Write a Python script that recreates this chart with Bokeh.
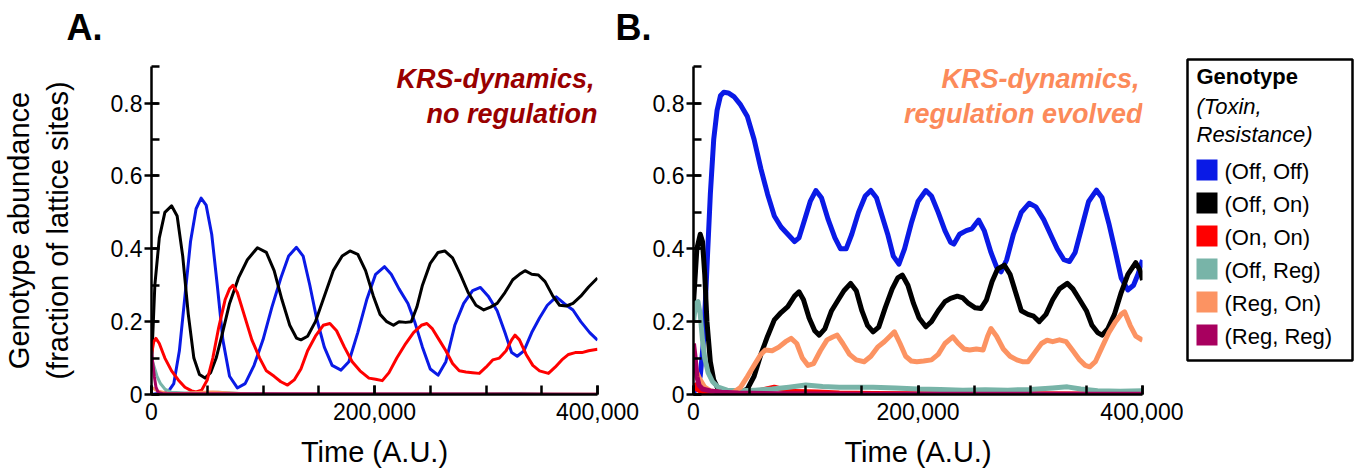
import numpy as np
from bokeh.plotting import figure
from bokeh.layouts import row, column
from bokeh.models import Range1d, SingleIntervalTicker, NumeralTickFormatter, Label
from bokeh.core.properties import value
from bokeh.embed import file_html
from bokeh.resources import INLINE

FONT = "Liberation Sans"

genotypes = ["(Off, Off)", "(Off, On)", "(On, On)", "(Off, Reg)", "(Reg, On)", "(Reg, Reg)"]
colors = ["#0a1ae6", "#000000", "#ff0000", "#78b4a8", "#fc9362", "#a8005f"]

a_offoff_t = [0, 10, 15, 20, 25, 30, 35, 40, 44.5, 49, 54, 59, 64, 70, 77, 84, 92, 100, 108, 116, 123, 130, 136, 142, 148, 155, 162, 170, 177, 185, 193, 201, 209, 215, 222, 230, 236, 243, 250, 257, 264, 272, 280, 288, 295, 302, 310, 317, 323, 328, 334, 341, 348, 355, 363, 370, 378, 385, 393, 400]
a_offoff_v = [0.0, 0.005, 0.008, 0.03, 0.12, 0.27, 0.42, 0.51, 0.539, 0.52, 0.44, 0.30, 0.15, 0.05, 0.018, 0.03, 0.08, 0.15, 0.24, 0.32, 0.38, 0.404, 0.38, 0.30, 0.21, 0.13, 0.08, 0.067, 0.09, 0.17, 0.26, 0.33, 0.351, 0.33, 0.29, 0.25, 0.20, 0.13, 0.07, 0.053, 0.09, 0.19, 0.25, 0.285, 0.294, 0.27, 0.23, 0.17, 0.115, 0.105, 0.12, 0.17, 0.21, 0.245, 0.268, 0.25, 0.232, 0.20, 0.17, 0.149]

a_offon_t = [0, 3, 7, 12, 18, 23, 28, 33, 38, 43, 48, 53, 58, 63, 70, 78, 86, 95, 103, 110, 117, 124, 130, 134, 140, 147, 155, 163, 171, 178, 185, 192, 199, 205, 211, 217, 222, 228, 233, 238, 243, 250, 257, 263, 270, 277, 284, 291, 298, 304, 310, 317, 324, 330, 335, 341, 347, 353, 360, 366, 372, 378, 385, 392, 400]
a_offon_v = [0.08, 0.30, 0.43, 0.50, 0.518, 0.49, 0.38, 0.22, 0.10, 0.055, 0.045, 0.06, 0.10, 0.16, 0.25, 0.32, 0.37, 0.403, 0.39, 0.34, 0.26, 0.19, 0.155, 0.15, 0.16, 0.20, 0.27, 0.34, 0.38, 0.394, 0.385, 0.34, 0.27, 0.22, 0.20, 0.19, 0.20, 0.198, 0.20, 0.24, 0.30, 0.36, 0.39, 0.394, 0.375, 0.33, 0.28, 0.245, 0.232, 0.24, 0.25, 0.28, 0.315, 0.33, 0.34, 0.33, 0.328, 0.31, 0.27, 0.245, 0.243, 0.25, 0.27, 0.295, 0.32]

a_onon_t = [0, 2, 4, 7, 12, 18, 24, 30, 36, 40, 45, 50, 55, 60, 66, 70, 73, 77, 83, 90, 97, 103, 110, 116, 122, 128, 134, 140, 147, 154, 160, 166, 173, 180, 187, 195, 201, 207, 213, 220, 228, 235, 242, 247, 252, 258, 264, 270, 276, 282, 288, 294, 300, 306, 312, 318, 323, 326, 330, 336, 342, 348, 356, 362, 368, 374, 380, 386, 392, 400]
a_onon_v = [0.11, 0.145, 0.154, 0.14, 0.10, 0.065, 0.04, 0.02, 0.01, 0.007, 0.012, 0.04, 0.10, 0.18, 0.26, 0.29, 0.30, 0.28, 0.22, 0.15, 0.10, 0.065, 0.05, 0.035, 0.026, 0.04, 0.07, 0.12, 0.16, 0.19, 0.195, 0.175, 0.13, 0.09, 0.065, 0.045, 0.042, 0.038, 0.06, 0.10, 0.14, 0.17, 0.19, 0.195, 0.18, 0.15, 0.12, 0.085, 0.065, 0.062, 0.06, 0.058, 0.075, 0.095, 0.10, 0.12, 0.15, 0.163, 0.15, 0.11, 0.08, 0.065, 0.058, 0.075, 0.095, 0.11, 0.115, 0.115, 0.12, 0.124]

a_offreg_t = [0, 2, 5, 8, 12, 18, 30, 50, 60, 80, 120, 200, 300, 330, 360, 400]
a_offreg_v = [0.10, 0.08, 0.05, 0.03, 0.015, 0.006, 0.004, 0.005, 0.006, 0.003, 0.001, 0.001, 0.002, 0.003, 0.001, 0.001]

a_regon_t = [0, 5, 15, 30, 45, 55, 70, 90, 400]
a_regon_v = [0.02, 0.01, 0.003, 0.003, 0.006, 0.007, 0.004, 0.001, 0.0005]

a_regreg_t = [0, 1, 2.5, 4, 6, 10, 400]
a_regreg_v = [0.12, 0.09, 0.05, 0.02, 0.006, 0.002, 0.001]

b_offoff_t = [0, 3, 6, 9, 12, 15, 18, 21, 24, 27, 31, 36, 42, 48, 54, 60, 66, 72, 78, 84, 90, 94, 99, 104, 109, 114, 120, 126, 131, 136, 141, 147, 153, 158, 163, 168, 173, 178, 183, 188, 194, 200, 207, 212, 218, 224, 229, 232, 237, 243, 248, 254, 259, 265, 270, 274, 279, 285, 292, 299, 305, 312, 318, 324, 330, 335, 340, 346, 352, 359, 364, 370, 376, 381, 387, 392, 396, 400]
b_offoff_v = [0.005, 0.02, 0.05, 0.15, 0.35, 0.55, 0.70, 0.78, 0.82, 0.83, 0.828, 0.818, 0.795, 0.763, 0.70, 0.62, 0.55, 0.49, 0.46, 0.44, 0.42, 0.43, 0.48, 0.53, 0.56, 0.54, 0.48, 0.43, 0.40, 0.40, 0.44, 0.50, 0.545, 0.56, 0.54, 0.49, 0.44, 0.38, 0.358, 0.40, 0.47, 0.53, 0.56, 0.545, 0.50, 0.45, 0.418, 0.413, 0.44, 0.45, 0.455, 0.479, 0.45, 0.39, 0.35, 0.337, 0.37, 0.44, 0.50, 0.525, 0.515, 0.48, 0.44, 0.40, 0.37, 0.365, 0.39, 0.46, 0.53, 0.561, 0.54, 0.47, 0.39, 0.32, 0.287, 0.30, 0.33, 0.369]

b_offon_t = [0, 3, 6, 8, 10, 12, 15, 18, 22, 28, 35, 42, 48, 54, 60, 66, 72, 78, 84, 90, 94, 98, 103, 108, 112, 117, 123, 129, 134, 140, 145, 150, 155, 160, 165, 171, 177, 182, 186, 191, 196, 201, 207, 212, 218, 224, 229, 235, 240, 245, 251, 256, 261, 266, 271, 277, 282, 287, 292, 298, 303, 308, 314, 320, 326, 333, 338, 344, 350, 355, 360, 364, 369, 375, 381, 387, 394, 398, 400]
b_offon_v = [0.25, 0.40, 0.44, 0.42, 0.33, 0.20, 0.09, 0.04, 0.015, 0.006, 0.004, 0.006, 0.015, 0.05, 0.11, 0.16, 0.205, 0.225, 0.241, 0.27, 0.282, 0.26, 0.21, 0.175, 0.163, 0.18, 0.23, 0.26, 0.285, 0.305, 0.285, 0.23, 0.19, 0.172, 0.185, 0.24, 0.29, 0.32, 0.328, 0.30, 0.25, 0.21, 0.186, 0.20, 0.23, 0.255, 0.264, 0.27, 0.265, 0.25, 0.238, 0.236, 0.26, 0.31, 0.345, 0.355, 0.33, 0.28, 0.23, 0.22, 0.215, 0.20, 0.22, 0.26, 0.29, 0.305, 0.29, 0.26, 0.23, 0.19, 0.17, 0.163, 0.18, 0.22, 0.28, 0.33, 0.362, 0.34, 0.314]

b_onon_t = [0, 3, 8, 20, 40, 55, 65, 72, 78, 90, 110, 130, 160, 200, 300, 400]
b_onon_v = [0.03, 0.015, 0.006, 0.004, 0.004, 0.008, 0.015, 0.02, 0.015, 0.008, 0.007, 0.004, 0.003, 0.002, 0.002, 0.001]

b_offreg_t = [0, 2, 4, 6, 8, 10, 13, 17, 22, 30, 40, 55, 70, 85, 100, 115, 130, 145, 160, 180, 200, 220, 240, 260, 280, 300, 320, 333, 345, 360, 380, 400]
b_offreg_v = [0.20, 0.25, 0.255, 0.22, 0.15, 0.10, 0.06, 0.035, 0.02, 0.012, 0.01, 0.012, 0.015, 0.02, 0.026, 0.022, 0.02, 0.02, 0.02, 0.018, 0.015, 0.014, 0.012, 0.013, 0.012, 0.014, 0.018, 0.021, 0.015, 0.01, 0.009, 0.01]

b_regon_t = [0, 3, 6, 10, 15, 25, 35, 42, 48, 54, 60, 64, 70, 76, 82, 87, 92, 97, 102, 107, 113, 119, 124, 128, 133, 139, 145, 152, 158, 164, 170, 175, 179, 184, 189, 194, 199, 205, 212, 218, 224, 231, 236, 241, 246, 252, 258, 262, 265, 270, 276, 282, 288, 293, 298, 304, 310, 315, 320, 326, 332, 338, 344, 349, 353, 358, 364, 370, 376, 381, 384, 389, 394, 400]
b_regon_v = [0.08, 0.06, 0.04, 0.02, 0.01, 0.004, 0.005, 0.02, 0.049, 0.08, 0.11, 0.122, 0.12, 0.13, 0.145, 0.154, 0.14, 0.10, 0.08, 0.085, 0.12, 0.15, 0.158, 0.163, 0.14, 0.11, 0.095, 0.09, 0.105, 0.13, 0.145, 0.16, 0.172, 0.14, 0.105, 0.092, 0.09, 0.092, 0.095, 0.11, 0.14, 0.158, 0.14, 0.125, 0.122, 0.125, 0.122, 0.16, 0.181, 0.16, 0.125, 0.105, 0.095, 0.09, 0.09, 0.115, 0.14, 0.149, 0.145, 0.15, 0.145, 0.12, 0.095, 0.08, 0.076, 0.09, 0.13, 0.17, 0.20, 0.22, 0.227, 0.19, 0.16, 0.149]

b_regreg_t = [0, 1.5, 3, 5, 8, 15, 25, 40, 80, 150, 400]
b_regreg_v = [0.14, 0.10, 0.05, 0.025, 0.015, 0.01, 0.006, 0.004, 0.002, 0.001, 0.001]

panel_a = [(a_offoff_t, a_offoff_v), (a_offon_t, a_offon_v), (a_onon_t, a_onon_v),
           (a_offreg_t, a_offreg_v), (a_regon_t, a_regon_v), (a_regreg_t, a_regreg_v)]
panel_b = [(b_offoff_t, b_offoff_v), (b_offon_t, b_offon_v), (b_onon_t, b_onon_v),
           (b_offreg_t, b_offreg_v), (b_regon_t, b_regon_v), (b_regreg_t, b_regreg_v)]

panel_letters = ["A.", "B."]
x_ticks_interval = 200000
y_ticks_interval = 0.2
x_label = "Time (A.U.)"
y_label = "Genotype abundance\n(fraction of lattice sites)"
legend_title = "Genotype"
legend_sub = ["(Toxin,", "Resistance)"]

HEADER_H = 62
PH = 409  # plot height below the header strip


def make_panel(series, width, min_left, min_right, note, note_color, lw, ylab):
    p = figure(width=width, height=PH, output_backend="svg", toolbar_location=None,
               x_range=Range1d(0, 400000), y_range=Range1d(0, 0.9005),
               min_border_left=min_left, min_border_right=min_right,
               min_border_top=4, min_border_bottom=77, title=None)
    p.outline_line_color = None
    p.grid.visible = False
    p.background_fill_color = "white"
    p.border_fill_color = "white"

    for (t, v), c in zip(series, colors):
        p.line(np.array(t) * 1000, v, line_color=c, line_width=lw, line_join="round")

    xa = p.xaxis[0]
    xa.ticker = SingleIntervalTicker(interval=x_ticks_interval, num_minor_ticks=4)
    xa.formatter = NumeralTickFormatter(format="0,0")
    ya = p.yaxis[0]
    ya.ticker = SingleIntervalTicker(interval=y_ticks_interval, num_minor_ticks=2)
    ya.formatter = NumeralTickFormatter(format="0.[0]")
    for ax in (xa, ya):
        ax.axis_line_width = 2.5
        ax.major_tick_line_width = 2.5
        ax.minor_tick_line_width = 2.5
        ax.major_label_text_font = FONT
        ax.major_label_text_font_size = "23px"
        ax.major_label_text_color = "black"
        ax.axis_label_text_font = FONT
        ax.axis_label_text_font_size = "29px"
        ax.axis_label_text_font_style = "normal"
        ax.axis_label_text_color = "black"
    xa.major_tick_in = 9
    xa.major_tick_out = 0
    xa.minor_tick_in = 9
    xa.minor_tick_out = 0
    xa.major_label_standoff = 8
    xa.axis_label = x_label
    xa.axis_label_standoff = 13
    ya.major_tick_in = 7
    ya.major_tick_out = 7
    ya.minor_tick_in = 8
    ya.minor_tick_out = 0
    ya.major_label_standoff = 2
    if ylab:
        ya.axis_label = y_label
        ya.axis_label_standoff = 34

    p.add_layout(Label(x=400000, y=0.9, x_offset=-3, y_offset=-12, text=note[0],
                       text_font=FONT, text_font_size="27px", text_font_style="bold italic",
                       text_color=note_color, text_align="right", text_baseline="alphabetic"))
    p.add_layout(Label(x=400000, y=0.9, x_offset=0, y_offset=-47, text=note[1],
                       text_font=FONT, text_font_size="27px", text_font_style="bold italic",
                       text_color=note_color, text_align="right", text_baseline="alphabetic"))
    return p


pa = make_panel(panel_a, 645, 144, 48, ["KRS-dynamics,", "no regulation"], "#990000", 3, True)
pb = make_panel(panel_b, 538, 48, 41, ["KRS-dynamics,", "regulation evolved"], "#fc8a5a", 5, False)

# header strip with the panel letters (pixel-like coordinates, y downwards)
ph = figure(width=1183, height=HEADER_H, output_backend="svg", toolbar_location=None,
            x_range=Range1d(0, 1183), y_range=Range1d(HEADER_H, 0),
            x_axis_type=None, y_axis_type=None, min_border=0, title=None)
ph.outline_line_color = None
ph.grid.visible = False
ph.text(x=[66, 615], y=[27, 27], text=panel_letters, text_font=value(FONT),
        text_font_size=value("36px"), text_font_style="bold", text_baseline="alphabetic",
        text_color="black")

# legend panel
pl = figure(width=173, height=HEADER_H + PH, output_backend="svg", toolbar_location=None,
            x_range=Range1d(0, 165), y_range=Range1d(301, 0),
            x_axis_type=None, y_axis_type=None, title=None,
            min_border_left=4, min_border_right=4, min_border_top=59,
            min_border_bottom=HEADER_H + PH - 59 - 301)
pl.outline_line_color = "black"
pl.outline_line_width = 2.5
pl.grid.visible = False

pl.text(x=[9], y=[16.5], text=[legend_title], text_font=value(FONT), text_font_size=value("22px"),
        text_font_style="bold", text_baseline="alphabetic", text_color="black")
pl.text(x=[9, 9], y=[46.5, 74.5], text=legend_sub, text_font=value(FONT), text_font_size=value("22px"),
        text_font_style="italic", text_baseline="alphabetic", text_color="black")
idx = np.arange(len(genotypes))
sq_y = 100 + 33 * idx + 10.5
pl.scatter(x=[19.5] * len(genotypes), y=sq_y, marker="square", size=21,
           fill_color=colors, line_color=None)
pl.text(x=[37] * len(genotypes), y=sq_y + 1.5, text=genotypes, text_font=value(FONT),
        text_font_size=value("22px"), text_baseline="alphabetic", text_color="black")

layout = row(column(ph, row(pa, pb, spacing=0), spacing=0), pl, spacing=0)
open("out.html", "w").write(file_html(layout, INLINE))
